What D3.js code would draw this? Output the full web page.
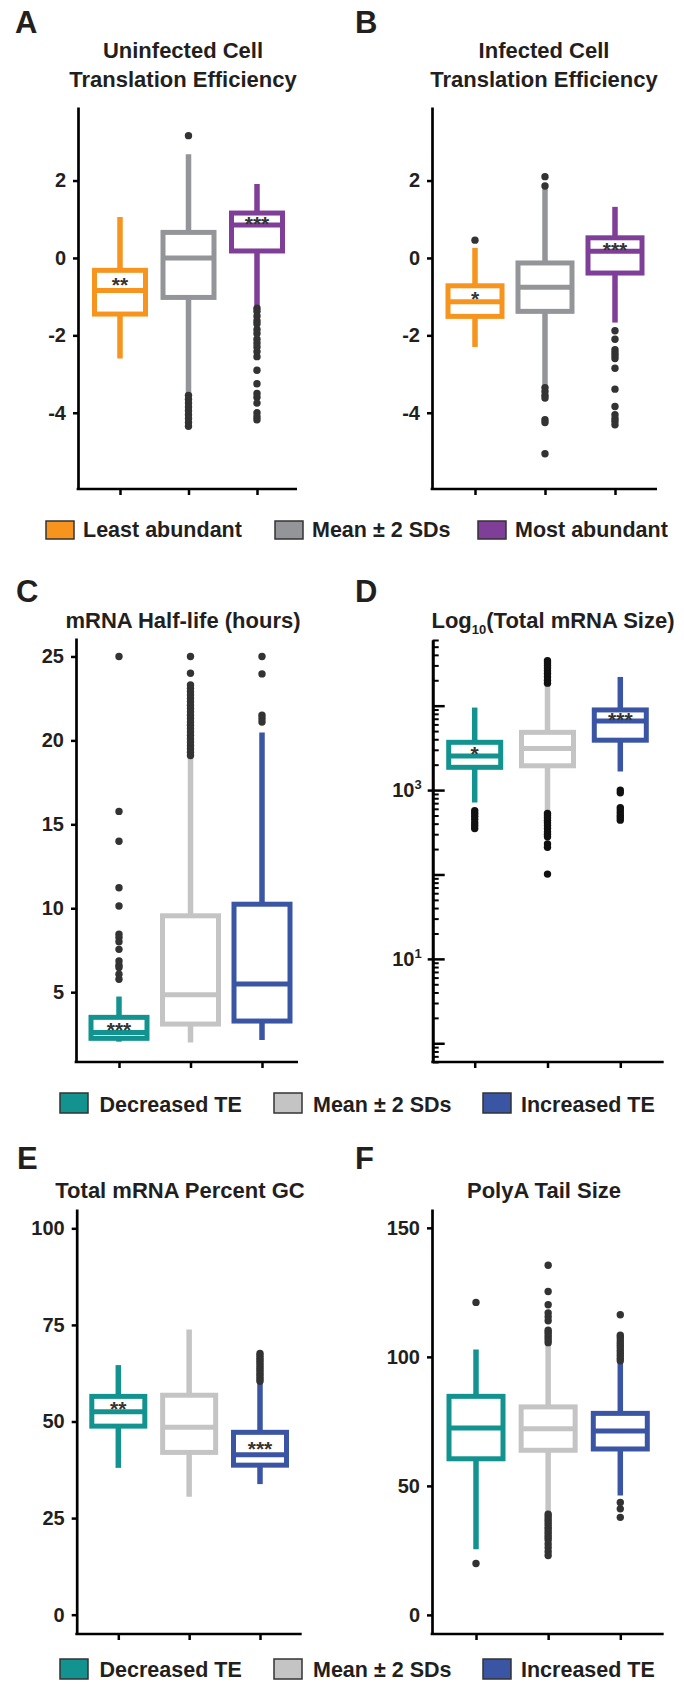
<!DOCTYPE html>
<html>
<head>
<meta charset="utf-8">
<script src="https://cdnjs.cloudflare.com/ajax/libs/d3/7.8.5/d3.min.js"></script>
<style>
body { margin: 0; background: #fff; }
text { font-family: "Liberation Sans", Arial, sans-serif; fill: #231f20; }
</style>
</head>
<body>
<svg width="684" height="1686"></svg>
<script>
var teGroups = ["Least abundant", "Mean ± 2 SDs", "Most abundant"];
var mrnaGroups = ["Decreased TE", "Mean ± 2 SDs", "Increased TE"];

var teTicks = [-4, -2, 0, 2];
var halfLifeTicks = [5, 10, 15, 20, 25];
var sizeLabelTicks = [10, 1000];
var gcTicks = [0, 25, 50, 75, 100];
var polyATicks = [0, 50, 100, 150];

// A: uninfected cell TE
var aLow = [-2.6, -3.5, -1.26];
var aQ1 = [-1.45, -1.02, 0.18];
var aMed = [-0.84, 0.0, 0.85];
var aQ3 = [-0.32, 0.66, 1.16];
var aHigh = [1.06, 2.68, 1.91];
var aOut = [[],
  [3.16, -3.55, -3.65, -3.75, -3.85, -3.95, -4.05, -4.15, -4.25, -4.35],
  [-1.3, -1.38, -1.5, -1.62, -1.7, -1.85, -1.95, -2.1, -2.2, -2.3, -2.42, -2.55, -2.9, -3.25, -3.5, -3.6, -3.75, -4.0, -4.1, -4.18]];
var aStars = ["**", "", "***"];

// B: infected cell TE
var bLow = [-2.3, -3.28, -1.67];
var bQ1 = [-1.51, -1.38, -0.39];
var bMed = [-1.13, -0.76, 0.17];
var bQ3 = [-0.72, -0.13, 0.52];
var bHigh = [0.26, 1.78, 1.32];
var bOut = [[0.46],
  [2.1, 1.86, -3.35, -3.45, -3.55, -3.62, -4.18, -4.25, -5.06],
  [-1.88, -2.1, -2.37, -2.45, -2.52, -2.6, -2.85, -3.39, -3.84, -4.05, -4.15, -4.22, -4.31]];
var bStars = ["*", "", "***"];

// C: mRNA half-life
var cLow = [2.05, 2.0, 2.15];
var cQ1 = [2.25, 3.1, 3.28];
var cMed = [2.6, 4.84, 5.48];
var cQ3 = [3.5, 9.55, 10.24];
var cHigh = [4.74, 19.04, 20.47];
var cOut = [[25, 15.77, 13.99, 11.22, 10.13, 8.45, 8.25, 8.0, 7.55, 6.86, 6.6, 6.47, 6.07, 5.77],
  [19.1, 19.3, 19.5, 19.7, 19.9, 20.1, 20.3, 20.5, 20.7, 20.9, 21.1, 21.3, 21.5, 21.7, 21.9, 22.1, 22.3, 22.5, 22.7, 22.9, 23.1, 23.3, 24.0, 25.0],
  [25, 23.96, 21.5, 21.3, 21.1]];
var cStars = ["***", "", ""];

// D: total mRNA size
var dLow = [712, 560, 1660];
var dQ1 = [1860, 1940, 3900];
var dMed = [2530, 3100, 6600];
var dQ3 = [3680, 4830, 8900];
var dHigh = [9500, 17900, 21900];
var dOut = [[570, 530, 490, 450, 410, 380, 350],
  [34000, 32000, 30000, 28000, 26000, 24000, 22000, 20000, 18500, 530, 500, 470, 440, 410, 380, 350, 320, 300, 280, 230, 210, 101],
  [1000, 930, 620, 580, 540, 500, 470, 440]];
var dStars = ["*", "", "***"];

// E: percent GC
var eLow = [38.0, 30.5, 33.8];
var eQ1 = [48.8, 42.0, 38.7];
var eMed = [52.5, 48.5, 41.4];
var eQ3 = [56.5, 56.8, 47.2];
var eHigh = [64.6, 73.8, 59.7];
var eOut = [[], [], [67.6, 67.0, 66.4, 65.8, 65.2, 64.6, 64.0, 63.4, 62.8, 62.2, 61.6, 61.0, 60.4]];
var eStars = ["**", "", "***"];

// F: polyA tail size
var fLow = [25.4, 39.4, 46.3];
var fQ1 = [60.5, 63.8, 64.3];
var fMed = [72.4, 72.1, 71.3];
var fQ3 = [84.7, 80.6, 78.1];
var fHigh = [102.9, 105.3, 97.8];
var fOut = [[121.1, 19.9],
  [135.5, 125.3, 120.2, 117, 115.5, 114, 110.3, 109.5, 108.5, 107.5, 106.5, 105.5, 39, 38, 37, 36, 35, 34, 33, 32, 31, 30, 29, 27.5, 26, 24.5, 23],
  [116.3, 108.4, 107.5, 106.5, 105.5, 104.5, 103.5, 102.5, 101.5, 100.5, 99.5, 98.5, 43.6, 41.1, 37.8]];
var fStars = ["", "", ""];

var teColors = ["#f7941d", "#939598", "#7f3f98"];
var mrnaColors = ["#13938f", "#c4c4c4", "#3b55a5"];

var svg = d3.select("svg");

var panels = [
  {label: "A", lx: 15, ly: 33, title: ["Uninfected Cell", "Translation Efficiency"], tx: 183, ty: 58,
   axisX: 78, axisEnd: 297, top: 107, bottom: 489, xRange: [120, 257], boxW: 51,
   y: d3.scaleLinear().domain([-5.97, 3.9]).range([489, 107]), yTicks: teTicks,
   groups: teGroups, colors: teColors, low: aLow, q1: aQ1, med: aMed, q3: aQ3, high: aHigh, out: aOut, stars: aStars, dot: "#333"},
  {label: "B", lx: 355, ly: 33, title: ["Infected Cell", "Translation Efficiency"], tx: 544, ty: 58,
   axisX: 432, axisEnd: 657, top: 107, bottom: 489, xRange: [475, 615], boxW: 54,
   y: d3.scaleLinear().domain([-5.97, 3.9]).range([489, 107]), yTicks: teTicks,
   groups: teGroups, colors: teColors, low: bLow, q1: bQ1, med: bMed, q3: bQ3, high: bHigh, out: bOut, stars: bStars, dot: "#333"},
  {label: "C", lx: 16, ly: 602, title: ["mRNA Half-life (hours)"], tx: 183, ty: 628,
   axisX: 76, axisEnd: 298, top: 638, bottom: 1062, xRange: [119, 262], boxW: 56,
   y: d3.scaleLinear().domain([0.84, 26.1]).range([1062, 638]), yTicks: halfLifeTicks,
   groups: mrnaGroups, colors: mrnaColors, low: cLow, q1: cQ1, med: cMed, q3: cQ3, high: cHigh, out: cOut, stars: cStars, dot: "#333"},
  {label: "D", lx: 355, ly: 602, title: null, tx: 553, ty: 628, log: true,
   axisX: 432.7, axisEnd: 663.7, top: 640, bottom: 1062, xRange: [474.7, 620.3], boxW: 52,
   y: d3.scaleLog().domain([0.6, 60000]).range([1062, 640]), yTicks: sizeLabelTicks,
   groups: mrnaGroups, colors: mrnaColors, low: dLow, q1: dQ1, med: dMed, q3: dQ3, high: dHigh, out: dOut, stars: dStars, dot: "#111"},
  {label: "E", lx: 17, ly: 1169, title: ["Total mRNA Percent GC"], tx: 180, ty: 1198,
   axisX: 76.7, axisEnd: 301.7, top: 1209, bottom: 1634, xRange: [118.3, 260], boxW: 53,
   y: d3.scaleLinear().domain([-5, 105]).range([1634, 1209]), yTicks: gcTicks,
   groups: mrnaGroups, colors: mrnaColors, low: eLow, q1: eQ1, med: eMed, q3: eQ3, high: eHigh, out: eOut, stars: eStars, dot: "#333"},
  {label: "F", lx: 355, ly: 1169, title: ["PolyA Tail Size"], tx: 544, ty: 1198,
   axisX: 432, axisEnd: 663.7, top: 1209, bottom: 1634, xRange: [476, 620.3], boxW: 54,
   y: d3.scaleLinear().domain([-7.4, 157.3]).range([1634, 1209]), yTicks: polyATicks,
   groups: mrnaGroups, colors: mrnaColors, low: fLow, q1: fQ1, med: fMed, q3: fQ3, high: fHigh, out: fOut, stars: fStars, dot: "#333"}
];

function styleAxis(sel) {
  sel.select(".domain").attr("stroke", "#000").attr("stroke-width", 2.7);
  sel.selectAll(".tick line").attr("stroke", "#000").attr("stroke-width", 2.5);
  sel.selectAll(".tick text").attr("font-size", 20).attr("font-weight", "bold").attr("fill", "#231f20");
}

function drawPanel(p) {
  var g = svg.append("g");
  var y = p.y;
  var x = d3.scalePoint().domain(p.groups).range(p.xRange);

  g.append("text").attr("x", p.lx).attr("y", p.ly)
    .attr("font-size", 31).attr("font-weight", "bold").text(p.label);

  if (p.title) {
    p.title.forEach(function(t, i) {
      g.append("text").attr("x", p.tx).attr("y", p.ty + i * 29)
        .attr("text-anchor", "middle").attr("font-size", 22).attr("font-weight", "bold").text(t);
    });
  } else {
    var tt = g.append("text").attr("x", p.tx).attr("y", p.ty)
      .attr("text-anchor", "middle").attr("font-size", 22).attr("font-weight", "bold");
    tt.append("tspan").text("Log");
    tt.append("tspan").attr("dy", 6).attr("font-size", 13).text("10");
    tt.append("tspan").attr("dy", -6).text("(Total mRNA Size)");
  }

  // y axis
  if (!p.log) {
    g.append("g").attr("transform", "translate(" + p.axisX + ",0)")
      .call(d3.axisLeft(y).tickValues(p.yTicks).tickSize(5).tickSizeOuter(0).tickPadding(7)
        .tickFormat(function(d) { return String(d); }))
      .call(styleAxis);
  } else {
    var all = y.ticks();
    var major = all.filter(function(d) { return Math.abs(Math.log10(d) - Math.round(Math.log10(d))) < 1e-9; });
    var minor = all.filter(function(d) { return major.indexOf(d) < 0; });
    g.append("g").attr("transform", "translate(" + p.axisX + ",0)")
      .call(d3.axisRight(y).tickValues(minor).tickSize(6).tickSizeOuter(0).tickFormat(""))
      .call(styleAxis)
      .selectAll(".tick line").attr("stroke-width", 2);
    g.append("g").attr("transform", "translate(" + p.axisX + ",0)")
      .call(d3.axisRight(y).tickValues(major).tickSize(12).tickSizeOuter(0).tickFormat(""))
      .call(styleAxis);
    var lab = g.append("g").attr("transform", "translate(" + p.axisX + ",0)")
      .call(d3.axisLeft(y).tickValues(p.yTicks).tickSize(5).tickSizeOuter(0).tickFormat(""))
      .call(styleAxis);
    lab.select(".domain").remove();
    p.yTicks.forEach(function(v) {
      var t = g.append("text").attr("x", p.axisX - 11).attr("y", y(v) + 7)
        .attr("text-anchor", "end").attr("font-size", 20).attr("font-weight", "bold");
      t.append("tspan").text("10");
      t.append("tspan").attr("dy", -8).attr("font-size", 13).text(String(Math.round(Math.log10(v))));
    });
  }

  // x axis
  var xa = g.append("g").attr("transform", "translate(0," + p.bottom + ")")
    .call(d3.axisBottom(x).tickSize(6).tickFormat(""))
    .call(styleAxis);
  xa.select(".domain").remove();
  g.append("line").attr("x1", p.axisX - 1.35).attr("x2", p.axisEnd)
    .attr("y1", p.bottom).attr("y2", p.bottom)
    .attr("stroke", "#000").attr("stroke-width", 2.7);

  var box = g.selectAll(".box").data(p.groups).enter().append("g").attr("class", "box");

  box.append("line")
    .attr("x1", function(d) { return x(d); }).attr("x2", function(d) { return x(d); })
    .attr("y1", function(d, i) { return y(p.high[i]); })
    .attr("y2", function(d, i) { return y(p.low[i]); })
    .attr("stroke", function(d, i) { return p.colors[i]; })
    .attr("stroke-width", 5.5);

  box.append("rect")
    .attr("x", function(d) { return x(d) - p.boxW / 2; })
    .attr("width", p.boxW)
    .attr("y", function(d, i) { return y(p.q3[i]); })
    .attr("height", function(d, i) { return y(p.q1[i]) - y(p.q3[i]); })
    .attr("fill", "#fff")
    .attr("stroke", function(d, i) { return p.colors[i]; })
    .attr("stroke-width", 5);

  box.append("line")
    .attr("x1", function(d) { return x(d) - p.boxW / 2; })
    .attr("x2", function(d) { return x(d) + p.boxW / 2; })
    .attr("y1", function(d, i) { return y(p.med[i]); })
    .attr("y2", function(d, i) { return y(p.med[i]); })
    .attr("stroke", function(d, i) { return p.colors[i]; })
    .attr("stroke-width", 5);

  box.each(function(d, i) {
    d3.select(this).selectAll("circle").data(p.out[i]).enter().append("circle")
      .attr("cx", x(d)).attr("cy", function(v) { return y(v); })
      .attr("r", 3.7).attr("fill", p.dot);
  });

  box.append("text")
    .attr("x", function(d) { return x(d); })
    .attr("y", function(d, i) { return (y(p.q3[i]) + y(p.med[i])) / 2 + 12; })
    .attr("text-anchor", "middle").attr("font-size", 21).attr("font-weight", "bold")
    .style("fill", "#333")
    .text(function(d, i) { return p.stars[i]; });
}

panels.forEach(drawPanel);

function drawLegend(groups, colors, swatchX, textX, top, h, baseline) {
  var lg = svg.append("g");
  groups.forEach(function(name, i) {
    lg.append("rect").attr("x", swatchX[i]).attr("y", top).attr("width", 28).attr("height", h)
      .attr("fill", colors[i]).attr("stroke", "#333").attr("stroke-width", 1.5);
    lg.append("text").attr("x", textX[i]).attr("y", baseline)
      .attr("font-size", 21.5).attr("font-weight", "bold").text(name);
  });
}

drawLegend(teGroups, teColors, [46, 275, 478], [83, 312, 515], 521, 18, 537);
drawLegend(mrnaGroups, mrnaColors, [60, 274, 483], [99.5, 313, 521], 1093, 20, 1112);
drawLegend(mrnaGroups, mrnaColors, [60, 274, 483], [99.5, 313, 521], 1659, 20, 1677);
</script>
</body>
</html>
